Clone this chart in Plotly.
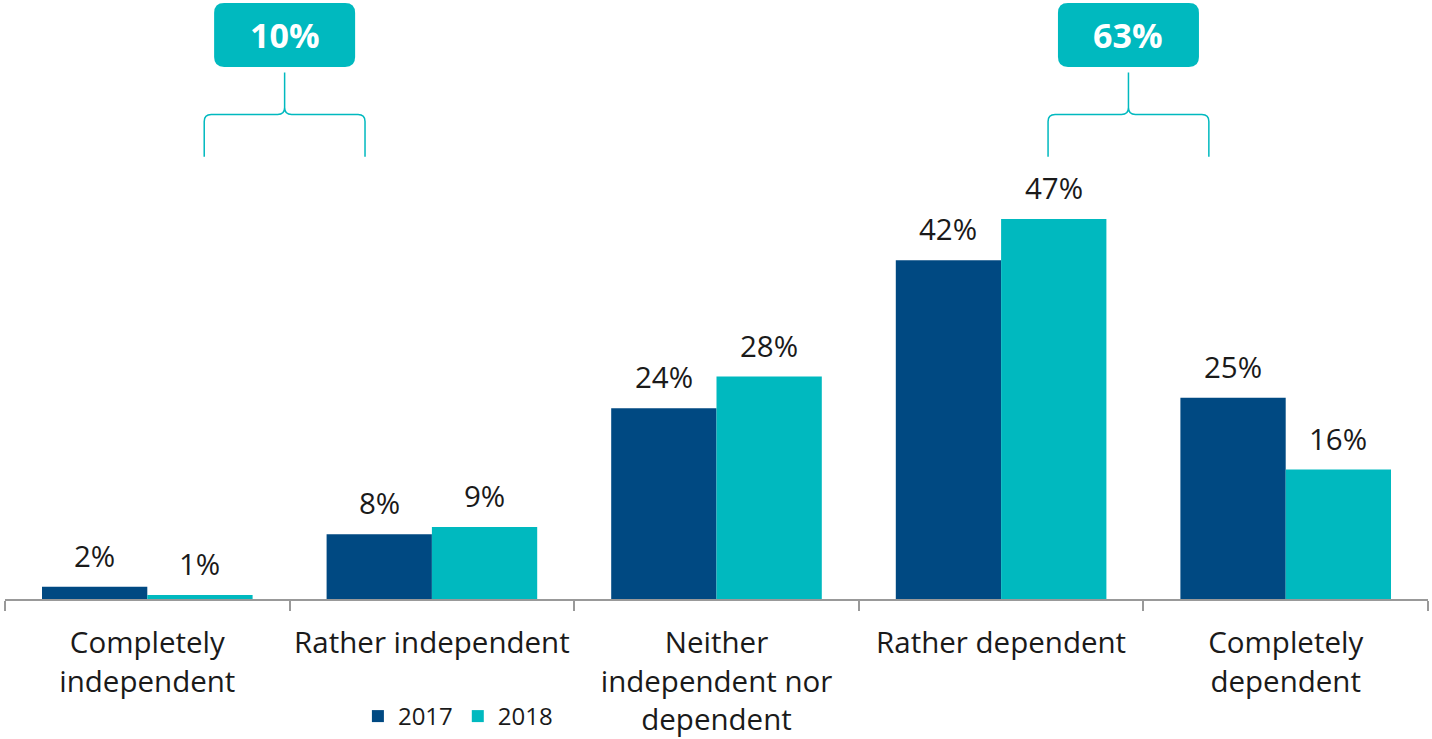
import plotly.graph_objects as go

categories = ["Completely<br>independent", "Rather independent",
              "Neither<br>independent nor<br>dependent", "Rather dependent",
              "Completely<br>dependent"]
# bar heights (percent)
values_2017 = [1.5, 8.0, 23.6, 41.9, 24.9]
values_2018 = [0.5, 8.9, 27.5, 47.0, 16.0]
# value labels as printed on the chart
labels_2017 = ["2%", "8%", "24%", "42%", "25%"]
labels_2018 = ["1%", "9%", "28%", "47%", "16%"]
series_names = ["2017", "2018"]
colors = ["#004982", "#00B9BF"]
callouts = [
    {"text": "10%", "from": 0.2, "to": 0.765},
    {"text": "63%", "from": 3.165, "to": 3.73},
]

FONT = "Open Sans"
fig = go.Figure()
for name, vals, col in zip(series_names, [values_2017, values_2018], colors):
    fig.add_trace(go.Bar(x=categories, y=vals, name=name, marker_color=col,
                         marker_line_width=0))

ncat = len(categories)
px_per_cat = 1423 / ncat
bar_w = px_per_cat * 0.74 / 2
for i, (vals, labs) in enumerate([(values_2017, labels_2017),
                                  (values_2018, labels_2018)]):
    for c, v, lab in zip(categories, vals, labs):
        fig.add_annotation(x=c, y=v, xref="x", yref="y", text=lab,
                           showarrow=False, yanchor="bottom", xanchor="center",
                           xshift=(-0.5 + i) * bar_w, yshift=9,
                           font=dict(size=29.5, color="#1a1a1a", family=FONT))

def px(idx):
    return (idx + 0.5) / ncat

teal = "#00B9BF"
for co in callouts:
    x0, x1 = px(co["from"]), px(co["to"])
    xc = (x0 + x1) / 2
    yb, yh, yt = 54.7, 59.9, 65.1
    rx, ry = 7 / 1423, 7 / 8.1
    path = (f"M {x0},{yb} L {x0},{yh-ry} Q {x0},{yh} {x0+rx},{yh} "
            f"L {xc-rx},{yh} Q {xc},{yh} {xc},{yh+ry} L {xc},{yt} "
            f"M {xc},{yh+ry} Q {xc},{yh} {xc+rx},{yh} "
            f"L {x1-rx},{yh} Q {x1},{yh} {x1},{yh-ry} L {x1},{yb}")
    fig.add_shape(type="path", path=path, xref="paper", yref="y",
                  line=dict(color=teal, width=1.5))
    bw = 141 / 1423
    bx0, bx1 = xc - bw / 2, xc + bw / 2
    by0, by1 = 65.8, 73.7
    rrx, rry = 10 / 1423, 10 / 8.1
    box = (f"M {bx0+rrx},{by0} L {bx1-rrx},{by0} Q {bx1},{by0} {bx1},{by0+rry} "
           f"L {bx1},{by1-rry} Q {bx1},{by1} {bx1-rrx},{by1} "
           f"L {bx0+rrx},{by1} Q {bx0},{by1} {bx0},{by1-rry} "
           f"L {bx0},{by0+rry} Q {bx0},{by0} {bx0+rrx},{by0} Z")
    fig.add_shape(type="path", path=box, xref="paper", yref="y",
                  fillcolor=teal, line=dict(width=0))
    fig.add_annotation(x=xc, y=(by0 + by1) / 2, xref="paper", yref="y",
                       xanchor="center", yanchor="middle",
                       text=f"<b>{co['text']}</b>", showarrow=False,
                       font=dict(size=34, color="white", family=FONT))

fig.update_layout(
    width=1432, height=739,
    margin=dict(l=5, r=4, t=0, b=139),
    paper_bgcolor="white", plot_bgcolor="white",
    barmode="group", bargap=0.26, bargroupgap=0,
    font=dict(family=FONT, color="#1a1a1a"),
    showlegend=True,
    legend=dict(orientation="h", x=0.248, xanchor="left", y=-0.197,
                yanchor="middle", font=dict(size=24, family=FONT),
                tracegroupgap=0),
    xaxis=dict(type="category", showline=True, linecolor="#999999", linewidth=2,
               ticks="outside", tickson="boundaries", ticklen=10, tickwidth=2,
               tickcolor="#999999", tickfont=dict(size=29.5, color="#1a1a1a"),
               tickangle=0, ticklabelstandoff=17, showgrid=False, automargin=False),
    yaxis=dict(range=[0, 74.07], visible=False, showgrid=False),
)

fig.write_html("out.html", config={"displayModeBar": False},
               post_script="document.body.style.margin='0px';")
